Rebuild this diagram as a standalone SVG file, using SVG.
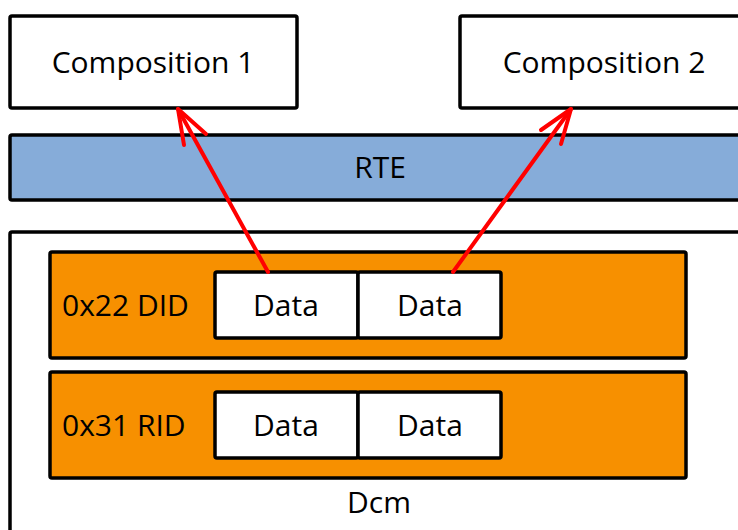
<svg xmlns="http://www.w3.org/2000/svg" width="738" height="530" viewBox="0 0 738 530">
<style>
.box{fill:#fff;stroke:#000;stroke-width:3.5}
.rte{fill:#86ACD9;stroke:#000;stroke-width:3.5}
.row{fill:#F79000;stroke:#000;stroke-width:3.5}
text{font-family:"Open Sans","Noto Sans",sans-serif;font-size:30px;fill:#000}
.c{text-anchor:middle}
.arr{fill:none;stroke:#FF0000;stroke-width:4;stroke-linecap:round;stroke-linejoin:round}
</style>
<rect width="738" height="530" fill="#fff"/>
<g id="dcm">
<rect class="box" x="10" y="232" width="740" height="320" rx="2"/>
<text class="c" x="379" y="513">Dcm</text>
</g>
<g id="composition1">
<rect class="box" x="10" y="16" width="287" height="92" rx="2"/>
<text class="c" x="153" y="73">Composition 1</text>
</g>
<g id="composition2">
<rect class="box" x="460" y="16" width="290" height="92" rx="2"/>
<text class="c" x="604" y="73">Composition 2</text>
</g>
<g id="rte">
<rect class="rte" x="10" y="135" width="740" height="65" rx="2"/>
<text class="c" x="380" y="178">RTE</text>
</g>
<g id="did">
<rect class="row" x="50" y="252" width="636" height="106" rx="2"/>
<text x="62" y="316">0x22 DID</text>
</g>
<g id="did-data1">
<rect class="box" x="215" y="272" width="143" height="66" rx="2"/>
<text class="c" x="286" y="316">Data</text>
</g>
<g id="did-data2">
<rect class="box" x="358" y="272" width="143" height="66" rx="2"/>
<text class="c" x="430" y="316">Data</text>
</g>
<g id="rid">
<rect class="row" x="50" y="372" width="636" height="106" rx="2"/>
<text x="62" y="436">0x31 RID</text>
</g>
<g id="rid-data1">
<rect class="box" x="215" y="392" width="143" height="66" rx="2"/>
<text class="c" x="286" y="436">Data</text>
</g>
<g id="rid-data2">
<rect class="box" x="358" y="392" width="143" height="66" rx="2"/>
<text class="c" x="430" y="436">Data</text>
</g>
<g id="connectors">
<path class="arr" d="M268,272 L178,109"/>
<path class="arr" d="M184,145 L178,109 L206,134"/>
<path class="arr" d="M453,272 L571,109"/>
<path class="arr" d="M541,130 L571,109 L561,144"/>
</g>
</svg>
